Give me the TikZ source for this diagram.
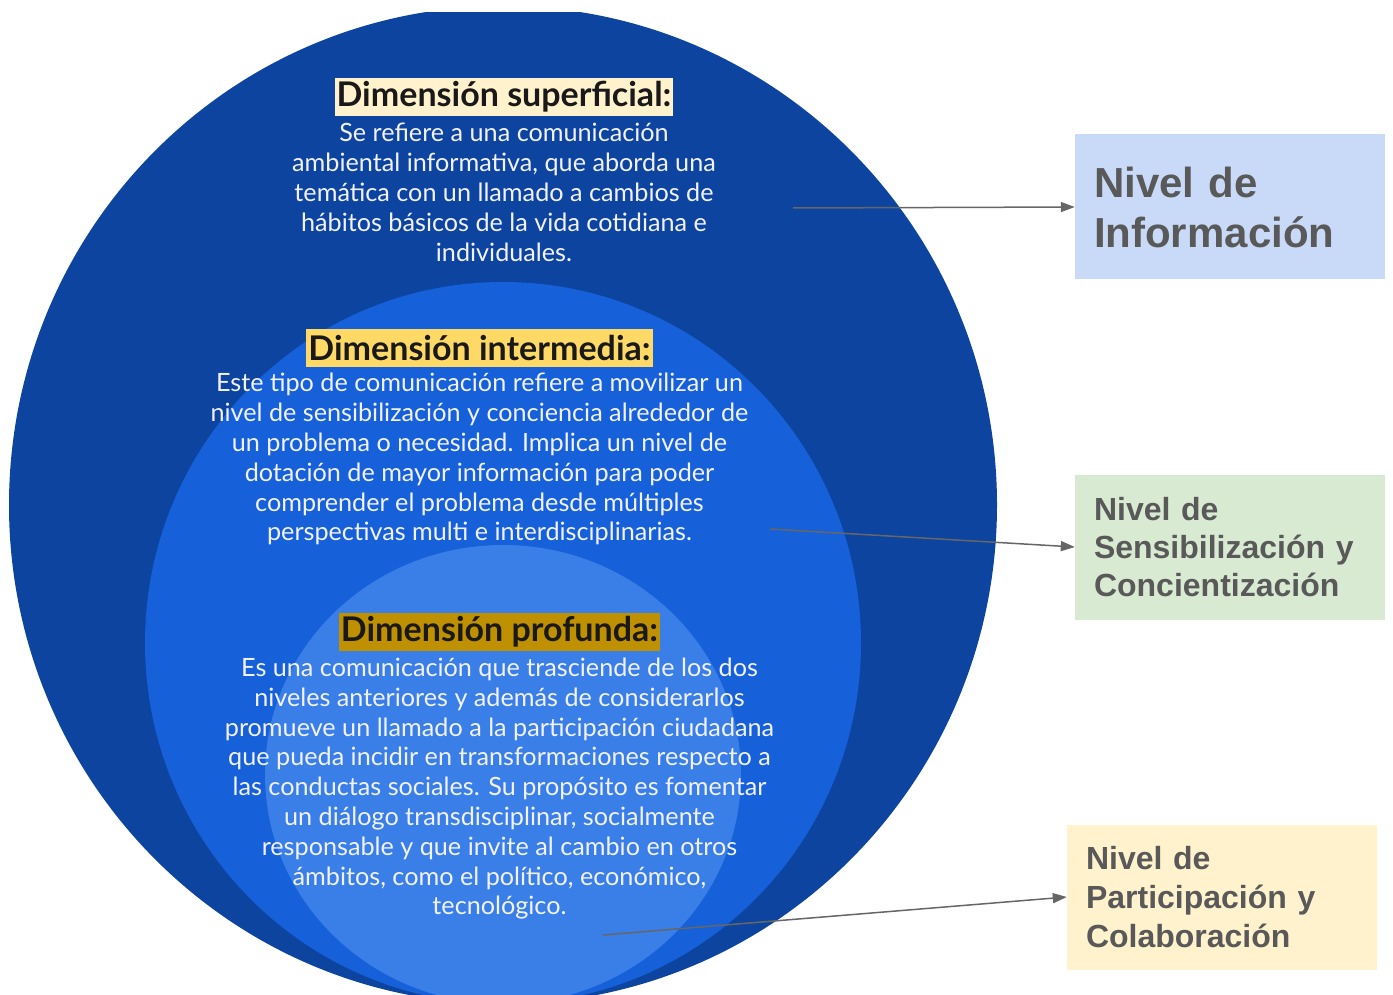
\documentclass[tikz,border=0pt]{standalone}
\usepackage{fontspec}
\setmainfont{Lato}
\newfontfamily\nivfont{Liberation Sans}
\usepackage{xcolor}
\usepackage{tikz}
\usetikzlibrary{positioning,arrows.meta}

\definecolor{azulA}{HTML}{0C44A0}
\definecolor{azulB}{HTML}{1660DA}
\definecolor{azulC}{HTML}{3A7FE8}
\definecolor{crema}{HTML}{FFF2CC}
\definecolor{amarillo}{HTML}{FFD966}
\definecolor{ocre}{HTML}{BF9000}
\definecolor{celeste}{HTML}{C9DAF8}
\definecolor{verdeclaro}{HTML}{D9EAD3}
\definecolor{gristexto}{HTML}{595959}
\definecolor{grisflecha}{HTML}{666666}

\begin{document}
\begin{tikzpicture}[x=1pt,y=-1pt,
    titulo/.style={inner xsep=2pt,inner ysep=0pt,minimum height=38pt,text=black!90,
      font=\fontsize{34}{38}\selectfont\bfseries},
    cuerpo/.style={inner sep=0pt,align=center,text=white!95!blue,
      font=\fontsize{25.2}{29.8}\selectfont},
    nivel/.style={minimum width=310pt,minimum height=145pt,inner xsep=19pt,
      text width=272pt,align=left,text=gristexto},
    flecha/.style={grisflecha,line width=1.5pt,-{Triangle[length=14pt,width=10pt]}}]
  \useasboundingbox (0,0) rectangle (1393,995);
  % circulos
  \begin{scope}
    \clip (0,13) rectangle (1393,995);
    \fill[azulA] (503,505) ellipse[x radius=494pt,y radius=499pt];
    \fill[azulB] (503,643) ellipse[x radius=358pt,y radius=361pt];
    \fill[azulC] (503,774.5) ellipse[x radius=238pt,y radius=229.5pt];
  \end{scope}
  % dimensiones
  \node [titulo,fill=crema] (dimsup) at (504,97) {Dimensión superficial:};
  \node [cuerpo,below=7pt of dimsup] (txtsup) {Se refiere a una comunicación\\
    ambiental informativa, que aborda una\\
    temática con un llamado a cambios de\\
    hábitos básicos de la vida cotidiana e\\
    individuales.};
  \node [titulo,fill=amarillo] (dimint) at (479.5,348) {Dimensión intermedia:};
  \node [cuerpo,below=6pt of dimint] (txtint) {Este tipo de comunicación refiere a movilizar un\\
    nivel de sensibilización y conciencia alrededor de\\
    un problema o necesidad. Implica un nivel de\\
    dotación de mayor información para poder\\
    comprender el problema desde múltiples\\
    perspectivas multi e interdisciplinarias.};
  \node [titulo,fill=ocre] (dimpro) at (499.5,631.5) {Dimensión profunda:};
  \node [cuerpo,below=7pt of dimpro] (txtpro) {Es una comunicación que trasciende de los dos\\
    niveles anteriores y además de considerarlos\\
    promueve un llamado a la participación ciudadana\\
    que pueda incidir en transformaciones respecto a\\
    las conductas sociales. Su propósito es fomentar\\
    un diálogo transdisciplinar, socialmente\\
    responsable y que invite al cambio en otros\\
    ámbitos, como el político, económico,\\
    tecnológico.};
  % niveles
  \node [nivel,fill=celeste,font=\nivfont\bfseries\fontsize{42}{50}\selectfont]
    (nivinf) at (1230,207) {Nivel de\\Información};
  \node [nivel,fill=verdeclaro,font=\nivfont\bfseries\fontsize{32}{38}\selectfont]
    (nivsen) at (1230,547) {Nivel de\\Sensibilización y\\Concientización};
  \node [nivel,fill=crema,font=\nivfont\bfseries\fontsize{32}{39}\selectfont]
    (nivpar) at (1222,897) {Nivel de\\Participación y\\Colaboración};
  \coordinate (inisup) at (793,208);
  \coordinate (iniint) at (770,529);
  \coordinate (inipro) at (603,935);
  \draw [flecha] (inisup) -- (nivinf.west);
  \draw [flecha] (iniint) -- (nivsen.west);
  \draw [flecha] (inipro) -- (nivpar.west);
\end{tikzpicture}
\end{document}
